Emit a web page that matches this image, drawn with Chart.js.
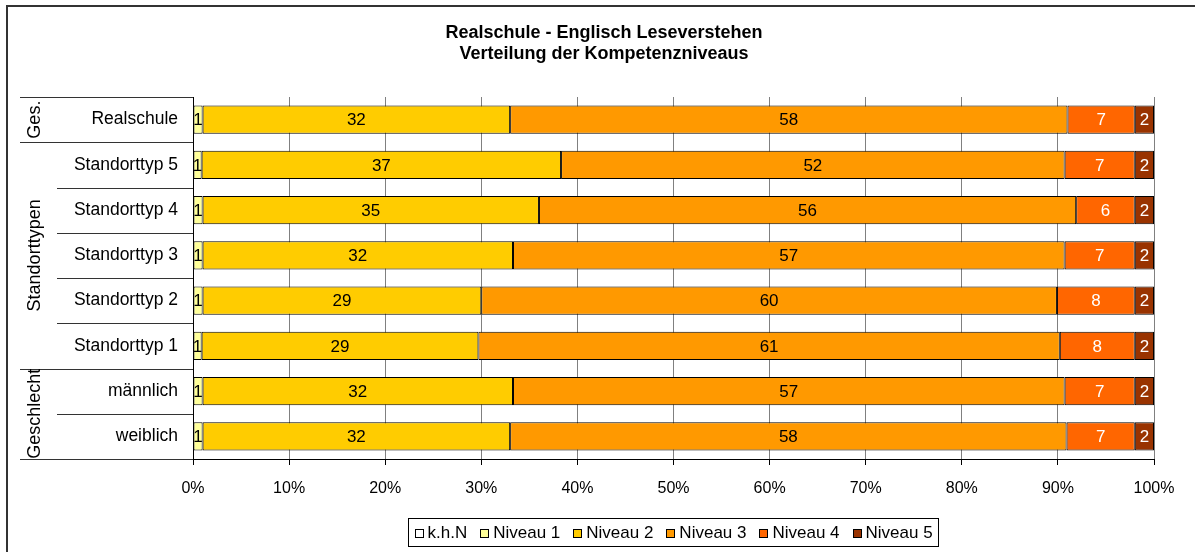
<!DOCTYPE html>
<html>
<head>
<meta charset="utf-8">
<script src="https://cdn.jsdelivr.net/npm/chart.js@4/dist/chart.umd.min.js"></script>
<style>
	html, body { margin: 0; padding: 0; background: #fff; }
	#wrap { position: relative; width: 1195px; height: 552px; }
</style>
</head>
<body>
<div id="wrap"><canvas id="levelsChart"></canvas></div>
<script>
// Chart data
const categories = [
	'Realschule',
	'Standorttyp 5',
	'Standorttyp 4',
	'Standorttyp 3',
	'Standorttyp 2',
	'Standorttyp 1',
	'männlich',
	'weiblich',
];
const khn = [ 0, 0, 0, 0, 0, 0, 0, 0 ];
const niveau1 = [ 1.0, 0.9, 1.0, 1.0, 1.0, 0.9, 1.0, 1.0 ];
const niveau2 = [ 32.0, 37.4, 35.0, 32.3, 29.0, 28.8, 32.3, 32.0 ];
const niveau3 = [ 58.0, 52.4, 55.9, 57.4, 59.9, 60.5, 57.4, 57.9 ];
const niveau4 = [ 7.0, 7.3, 6.1, 7.3, 8.1, 7.8, 7.3, 7.1 ];
const niveau5 = [ 2.0, 2.0, 2.0, 2.0, 2.0, 2.0, 2.0, 2.0 ];
const seriesNames = [ 'k.h.N', 'Niveau 1', 'Niveau 2', 'Niveau 3', 'Niveau 4', 'Niveau 5' ];
const xTicks = [ 0, 10, 20, 30, 40, 50, 60, 70, 80, 90, 100 ];
const groups = [
	{ label: 'Ges.', from: 0, to: 0 },
	{ label: 'Standorttypen', from: 1, to: 5 },
	{ label: 'Geschlecht', from: 6, to: 7 },
];
const titleLines = [ 'Realschule - Englisch Leseverstehen', 'Verteilung der Kompetenzniveaus' ];

const FONT = 'Arial, "Liberation Sans", sans-serif';
const colors = [ '#FFFFFF', '#FFFF99', '#FFCC00', '#FF9900', '#FF6600', '#993300' ];
const labelColors = [ '#000', '#000', '#000', '#000', '#fff', '#fff' ];

Chart.defaults.font.family = FONT;
Chart.defaults.color = '#000';

// value labels inside the segments
const valueLabels = {
	id: 'valueLabels',
	afterDatasetsDraw( chart ) {
		const ctx = chart.ctx;
		ctx.save();
		ctx.font = '17px ' + FONT;
		ctx.textAlign = 'center';
		ctx.textBaseline = 'middle';
		chart.data.datasets.forEach( ( ds, i ) => {
			if ( i === 0 ) return;
			chart.getDatasetMeta( i ).data.forEach( ( bar, j ) => {
				const v = ds.data[ j ];
				if ( ! v ) return;
				const left = Math.min( bar.x, bar.base );
				const w = Math.abs( bar.x - bar.base );
				ctx.fillStyle = labelColors[ i ];
				ctx.fillText( String( Math.round( v ) ), left + w / 2, bar.y + 1 );
			} );
		} );
		ctx.restore();
	},
};

// title, group labels, separators, legend, frame
const decorations = {
	id: 'decorations',
	afterDraw( chart ) {
		const ctx = chart.ctx;
		const area = chart.chartArea;
		const y = chart.scales.y;
		ctx.save();

		// frame
		ctx.strokeStyle = '#333';
		ctx.lineWidth = 2;
		ctx.beginPath();
		ctx.moveTo( 7, 552 );
		ctx.lineTo( 7, 6 );
		ctx.lineTo( 1195, 6 );
		ctx.stroke();

		// title
		ctx.fillStyle = '#000';
		ctx.font = 'bold 18px ' + FONT;
		ctx.textAlign = 'center';
		ctx.textBaseline = 'middle';
		ctx.fillText( titleLines[ 0 ], 604, 33 );
		ctx.fillText( titleLines[ 1 ], 604, 54 );

		// separators in the label column
		const n = categories.length;
		const step = ( area.bottom - area.top ) / n;
		const groupStarts = groups.map( ( g ) => g.from );
		ctx.strokeStyle = '#333';
		ctx.lineWidth = 1;
		for ( let k = 0; k <= n; k++ ) {
			const yy = Math.round( area.top + k * step ) + 0.5;
			const outer = k === 0 || k === n || groupStarts.includes( k );
			ctx.beginPath();
			ctx.moveTo( outer ? 20 : 57, yy );
			ctx.lineTo( area.left, yy );
			ctx.stroke();
		}

		// group labels, rotated
		ctx.font = '18px ' + FONT;
		ctx.fillStyle = '#000';
		groups.forEach( ( g ) => {
			const cy = ( y.getPixelForValue( g.from ) + y.getPixelForValue( g.to ) ) / 2;
			ctx.save();
			ctx.translate( 35, cy );
			ctx.rotate( -Math.PI / 2 );
			ctx.textAlign = 'center';
			ctx.textBaseline = 'middle';
			ctx.fillText( g.label, 0, 0 );
			ctx.restore();
		} );

		// legend
		ctx.font = '17px ' + FONT;
		const sq = 9;
		const gapSq = 4;
		const gapItem = 13;
		const widths = seriesNames.map( ( s ) => ctx.measureText( s ).width );
		const total = widths.reduce( ( a, w ) => a + sq + gapSq + w, 0 ) + gapItem * ( seriesNames.length - 1 );
		const pad = 6;
		const cx = ( area.left + area.right ) / 2;
		const boxL = Math.round( cx - total / 2 - pad ) + 0.5;
		const boxW = Math.round( total + pad * 2 );
		const boxT = 518.5;
		const boxH = 28;
		ctx.strokeStyle = '#000';
		ctx.lineWidth = 1;
		ctx.strokeRect( boxL, boxT, boxW, boxH );
		let x = boxL + pad;
		const my = boxT + boxH / 2;
		ctx.textAlign = 'left';
		ctx.textBaseline = 'middle';
		seriesNames.forEach( ( s, i ) => {
			ctx.fillStyle = colors[ i ];
			ctx.fillRect( Math.round( x ), Math.round( my - sq / 2 ) + 1, sq, sq );
			ctx.strokeStyle = '#000';
			ctx.strokeRect( Math.round( x ) + 0.5, Math.round( my - sq / 2 ) + 1.5, sq - 1, sq - 1 );
			x += sq + gapSq;
			ctx.fillStyle = '#000';
			ctx.fillText( s, x, my + 1 );
			x += widths[ i ] + gapItem;
		} );

		ctx.restore();
	},
};

const seriesData = [ khn, niveau1, niveau2, niveau3, niveau4, niveau5 ];

new Chart( document.getElementById( 'levelsChart' ).getContext( '2d' ), {
	type: 'bar',
	data: {
		labels: categories,
		datasets: seriesData.map( ( d, i ) => ( {
			label: seriesNames[ i ],
			data: d,
			backgroundColor: colors[ i ],
			borderColor: '#000',
			borderWidth: i === 0 ? 0 : 1,
			borderSkipped: false,
			categoryPercentage: 0.62,
			barPercentage: 1,
		} ) ),
	},
	options: {
		indexAxis: 'y',
		responsive: true,
		maintainAspectRatio: false,
		animation: false,
		layout: {
			padding: { top: 97, right: 41, bottom: 50, left: 0 },
		},
		plugins: {
			legend: { display: false },
			tooltip: { enabled: false },
		},
		scales: {
			x: {
				stacked: true,
				min: 0,
				max: 100,
				afterBuildTicks( scale ) {
					scale.ticks = xTicks.map( ( v ) => ( { value: v } ) );
				},
				afterFit( scale ) {
					scale.height = 43;
				},
				ticks: {
					callback: ( v ) => v + '%',
					font: { size: 16 },
					color: '#000',
					padding: 14,
					maxRotation: 0,
				},
				grid: {
					color: ( c ) => ( c.tick && c.tick.value === 0 ? '#000' : '#808080' ),
					tickColor: '#000',
					tickLength: 6,
					drawOnChartArea: true,
				},
				border: { display: true, color: '#000' },
			},
			y: {
				stacked: true,
				afterFit( scale ) {
					scale.width = 193;
				},
				ticks: {
					font: { size: 17.5 },
					color: '#000',
					padding: 15,
				},
				grid: { display: false, drawTicks: false },
				border: { display: true, color: '#000' },
			},
		},
	},
	plugins: [ valueLabels, decorations ],
} );
</script>
</body>
</html>
